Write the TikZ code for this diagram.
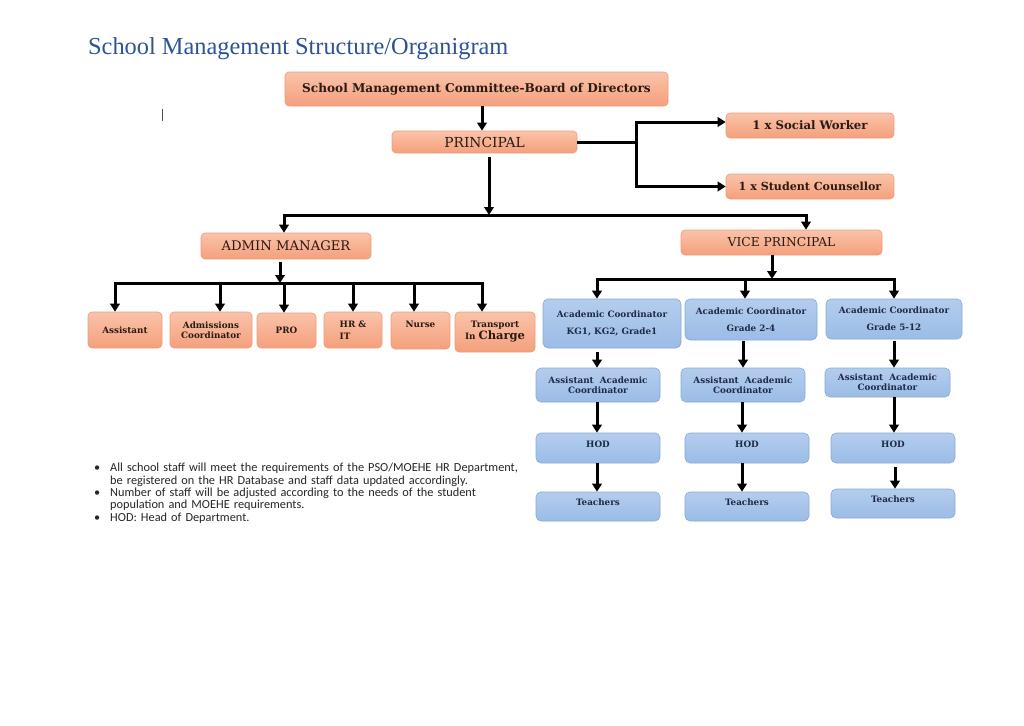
\documentclass[tikz,border=0pt]{standalone}
\usepackage{fontspec}
\setmainfont{DejaVu Serif}
\newfontfamily\titlefont{Liberation Serif}
\newfontfamily\notefont{Carlito}
\usetikzlibrary{arrows.meta}
\definecolor{orT}{HTML}{FAC3A9}
\definecolor{orB}{HTML}{F4A07C}
\definecolor{orD}{HTML}{EE9C7A}
\definecolor{blT}{HTML}{B4CDEE}
\definecolor{blB}{HTML}{9BBCE6}
\definecolor{blD}{HTML}{86AADA}
\definecolor{titleblue}{HTML}{2E5395}
\definecolor{txt}{HTML}{2A1A14}
\definecolor{btxt}{HTML}{1F2A44}
\tikzset{
  x=1pt, y=-1pt,
  obox/.style={draw=orD, line width=0.6pt, rounded corners=4pt, top color=orT, bottom color=orB,
    align=center, inner sep=0pt, text=txt},
  bbox/.style={draw=blD, line width=0.6pt, rounded corners=5pt, top color=blT, bottom color=blB,
    align=center, inner sep=0pt, text=btxt, font=\fontsize{8.8}{12}\selectfont\bfseries},
  sbox/.style={obox, font=\fontsize{8.8}{11}\selectfont\bfseries},
  arr/.style={line width=3pt, -{Triangle[width=9.5pt,length=8pt]}},
  ln/.style={line width=3pt},
}
\begin{document}
\begin{tikzpicture}
\useasboundingbox[fill=white] (0,0) rectangle (1024,725);

% title
\node[anchor=base west, inner sep=0pt, text=titleblue, font=\titlefont\fontsize{24.35}{28}\selectfont] (title) at (88,55) {School Management Structure/Organigram};

% cursor mark
\draw[line width=0.8pt, black!70] (162,109) -- (162,121);

% top level
\node[obox, minimum width=383, minimum height=34, font=\fontsize{12.1}{14}\selectfont\bfseries] (board) at (476.5,89) {School Management Committee-Board of Directors};
\node[obox, minimum width=185, minimum height=22, font=\fontsize{13.8}{15}\selectfont] (principal) at (484.5,142) {PRINCIPAL};
\node[obox, minimum width=168, minimum height=25, font=\fontsize{11.7}{13}\selectfont\bfseries] (social) at (810,125.5) {1 x Social Worker};
\node[obox, minimum width=168, minimum height=25, font=\fontsize{11.1}{13}\selectfont\bfseries] (counsel) at (810,186.5) {1 x Student Counsellor};
\node[obox, minimum width=170, minimum height=26, font=\fontsize{13.2}{15}\selectfont] (admin) at (286,246) {ADMIN MANAGER};
\node[obox, minimum width=201, minimum height=25, font=\fontsize{12.3}{14}\selectfont] (vice) at (781.5,242.5) {VICE PRINCIPAL};

% admin staff
\node[sbox, minimum width=74, minimum height=36] (assist) at (125,330) {Assistant};
\node[sbox, minimum width=82, minimum height=36] (admiss) at (211,330) {Admissions\\[-1pt]Coordinator};
\node[sbox, minimum width=59, minimum height=35] (pro) at (286.5,330.5) {PRO};
\node[sbox, minimum width=58, minimum height=36, align=left] (hrit) at (353,330) {HR \&\\[1pt]IT\hspace*{15pt}};
\node[sbox, minimum width=59, minimum height=37] (nurse) at (420.5,330.5) {Nurse\\[2pt]};
\node[sbox, minimum width=80, minimum height=40] (transp) at (495,332) {Transport\\[1pt]In {\fontsize{11.5}{12}\selectfont Charge}};

% academic columns
\node[bbox, minimum width=138, minimum height=49] (ac1) at (612,323.5) {Academic Coordinator\\[5pt]KG1, KG2, Grade1};
\node[bbox, minimum width=132, minimum height=41] (ac2) at (751,319.5) {Academic Coordinator\\[5pt]Grade 2-4};
\node[bbox, minimum width=136, minimum height=40] (ac3) at (894,319) {Academic Coordinator\\[5pt]Grade 5-12};

\node[bbox, minimum width=124, minimum height=34] (aac1) at (598,385) {Assistant~ Academic\\[-2pt]Coordinator};
\node[bbox, minimum width=124, minimum height=34] (aac2) at (743,385) {Assistant~ Academic\\[-2pt]Coordinator};
\node[bbox, minimum width=125, minimum height=29] (aac3) at (887.5,382.5) {Assistant~ Academic\\[-2pt]Coordinator};

\node[bbox, minimum width=124, minimum height=30] (hod1) at (598,448) {HOD\\[-4pt]};
\node[bbox, minimum width=124, minimum height=30] (hod2) at (747,448) {HOD\\[-4pt]};
\node[bbox, minimum width=124, minimum height=30] (hod3) at (893,448) {HOD\\[-4pt]};

\node[bbox, minimum width=124, minimum height=29] (t1) at (598,506.5) {Teachers\\[-4pt]};
\node[bbox, minimum width=124, minimum height=29] (t2) at (747,506.5) {Teachers\\[-4pt]};
\node[bbox, minimum width=124, minimum height=29] (t3) at (893,503.5) {Teachers\\[-4pt]};

% connectors: board -> principal
\draw[arr] ([xshift=5.5pt]board.south) -- ([xshift=-2.5pt]principal.north);

% principal -> social / counsellor
\coordinate (sbar) at (636,142);
\coordinate (stop) at (636,122);
\coordinate (sbot) at (636,186.5);
\draw[ln] (principal.east) -- (sbar);
\draw[ln] (636,188) -- (636,121);
\draw[arr] (stop) -- (social.west |- stop);
\draw[arr] (sbot) -- (counsel.west);

% principal -> admin / vice
\coordinate (pbar) at (489,215);
\draw[arr] ([xshift=4.5pt,yshift=-4pt]principal.south) -- (pbar);
\draw[ln] (284,215) -- (806,215);
\draw[arr] (284,214) -- (admin.north -| 284,0);
\draw[arr] (806,214) -- (vice.north -| 806,0);

% admin -> staff
\coordinate (abar) at (280,283);
\draw[arr] ([xshift=-6pt,yshift=-3pt]admin.south) -- (abar);
\draw[ln] (115,283) -- (483,283);
\draw[arr] (115,282) -- (assist.north -| 115,0);
\draw[arr] (220,282) -- (admiss.north -| 220,0);
\draw[arr] (284,282) -- (pro.north -| 284,0);
\draw[arr] (353,282) -- (hrit.north -| 353,0);
\draw[arr] (414,282) -- (nurse.north -| 414,0);
\draw[arr] (482,282) -- (transp.north -| 482,0);

% vice -> academic coordinators
\coordinate (vbar) at (772,279);
\draw[arr] ([xshift=-9.5pt]vice.south) -- (vbar);
\draw[ln] (597,279) -- (894,279);
\draw[arr] (597,278) -- (ac1.north -| 597,0);
\draw[arr] (745,278) -- (ac2.north -| 745,0);
\draw[arr] (894,278) -- (ac3.north -| 894,0);

% columns
\draw[arr] (597,352) -- (aac1.north -| 597,0);
\draw[arr] (743,341) -- (aac2.north -| 743,0);
\draw[arr] (894,341) -- (aac3.north -| 894,0);
\draw[arr] (597,402) -- (hod1.north -| 597,0);
\draw[arr] (742,402) -- (hod2.north -| 742,0);
\draw[arr] (894,397) -- (hod3.north -| 894,0);
\draw[arr] (597,463) -- (t1.north -| 597,0);
\draw[arr] (742,463) -- (t2.north -| 742,0);
\draw[arr] (895,467) -- (t3.north -| 895,0);

% notes
\node[anchor=north west, inner sep=0pt, text width=433pt, font=\notefont\fontsize{12.3}{12.4}\selectfont, text=black!85] (notes) at (92,459) {%
\begin{list}{\textbullet}{\leftmargin=18pt\labelsep=10pt\labelwidth=8pt\itemsep=0pt\parsep=0pt\topsep=0pt\partopsep=0pt}
\item All school staff will meet the requirements of the PSO/MOEHE HR Department, be registered on the HR Database and staff data updated accordingly.
\item Number of staff will be adjusted according to the needs of the student population and MOEHE requirements.
\item HOD: Head of Department.
\end{list}};
\end{tikzpicture}
\end{document}
